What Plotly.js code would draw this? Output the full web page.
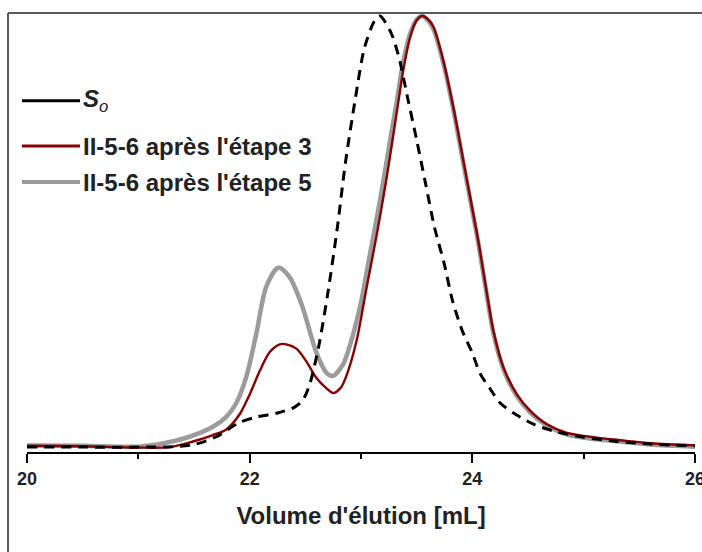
<!DOCTYPE html>
<html>
<head>
<meta charset="utf-8">
<script src="https://cdn.plot.ly/plotly-3.0.1.min.js"></script>
<style>html,body{margin:0;padding:0;background:#fff;}#chart{width:702px;height:552px;}</style>
</head>
<body>
<div id="chart"></div>
<script>
// Elution volume (mL) and normalised detector response
var s0X = [20.0, 20.5, 21.0, 21.3, 21.5, 21.7, 21.9, 22.05, 22.25, 22.4, 22.48, 22.54, 22.62, 22.70, 22.79, 22.86, 22.95, 23.03, 23.12, 23.17, 23.27, 23.34, 23.42, 23.50, 23.58, 23.66, 23.75, 23.82, 23.91, 24.0, 24.07, 24.16, 24.25, 24.37, 24.55, 24.75, 25.0, 25.3, 25.6, 26.0];
var s0Y = [0.002, 0.002, 0.002, 0.003, 0.008, 0.026, 0.058, 0.071, 0.081, 0.094, 0.112, 0.148, 0.235, 0.355, 0.515, 0.66, 0.81, 0.925, 0.988, 1.0, 0.961, 0.905, 0.809, 0.713, 0.612, 0.511, 0.424, 0.343, 0.271, 0.22, 0.172, 0.137, 0.104, 0.081, 0.055, 0.038, 0.025, 0.015, 0.009, 0.005];

var step3X = [20.0, 20.5, 21.0, 21.28, 21.49, 21.67, 21.79, 21.91, 22.0, 22.09, 22.18, 22.27, 22.33, 22.42, 22.51, 22.60, 22.69, 22.75, 22.82, 22.88, 22.96, 23.05, 23.14, 23.23, 23.32, 23.38, 23.44, 23.50, 23.55, 23.60, 23.65, 23.74, 23.83, 23.92, 24.01, 24.06, 24.12, 24.19, 24.28, 24.40, 24.52, 24.67, 24.85, 25.12, 25.33, 25.6, 26.0];
var step3Y = [0.005, 0.004, 0.001, 0.002, 0.015, 0.03, 0.043, 0.078, 0.124, 0.178, 0.222, 0.24, 0.24, 0.23, 0.2, 0.162, 0.138, 0.127, 0.14, 0.175, 0.248, 0.371, 0.492, 0.625, 0.775, 0.875, 0.95, 0.99, 1.0, 0.993, 0.975, 0.896, 0.788, 0.664, 0.54, 0.47, 0.375, 0.27, 0.186, 0.124, 0.086, 0.055, 0.035, 0.024, 0.018, 0.011, 0.006];

var step5X = [20.0, 20.5, 21.0, 21.25, 21.46, 21.67, 21.79, 21.88, 21.97, 22.06, 22.15, 22.26, 22.36, 22.47, 22.60, 22.69, 22.75, 22.84, 22.90, 22.99, 23.08, 23.17, 23.26, 23.32, 23.38, 23.44, 23.50, 23.55, 23.60, 23.65, 23.74, 23.83, 23.92, 24.01, 24.06, 24.12, 24.19, 24.28, 24.40, 24.52, 24.67, 24.85, 25.12, 25.33, 25.6, 26.0];
var step5Y = [0.006, 0.005, 0.003, 0.012, 0.026, 0.049, 0.072, 0.104, 0.165, 0.265, 0.374, 0.418, 0.395, 0.33, 0.22, 0.174, 0.167, 0.194, 0.237, 0.325, 0.448, 0.572, 0.71, 0.8, 0.895, 0.958, 0.992, 1.0, 0.99, 0.97, 0.89, 0.782, 0.658, 0.535, 0.465, 0.37, 0.265, 0.182, 0.12, 0.082, 0.052, 0.031, 0.02, 0.015, 0.008, 0.003];

var seriesNames = ['<b><i>S</i></b><sub><i>o</i></sub>', "<b>II-5-6 après l'étape 3</b>", "<b>II-5-6 après l'étape 5</b>"];
var seriesColors = ['#000000', '#8b0000', '#9b9b9b'];
var xTickVals = [20, 22, 24, 26];
var xTickText = ['20', '22', '24', '26'];
var xTitle = "Volume d'élution [mL]";

var traces = [
  {x: step5X, y: step5Y, mode: 'lines', name: seriesNames[2], line: {color: seriesColors[2], width: 4.5, shape: 'spline', smoothing: 0.8}, showlegend: false, hoverinfo: 'skip'},
  {x: step3X, y: step3Y, mode: 'lines', name: seriesNames[1], line: {color: seriesColors[1], width: 2.4, shape: 'spline', smoothing: 0.8}, showlegend: false, hoverinfo: 'skip'},
  {x: s0X, y: s0Y, mode: 'lines', name: seriesNames[0], line: {color: seriesColors[0], width: 3, dash: '10px,7px', shape: 'spline', smoothing: 0.8}, showlegend: false, hoverinfo: 'skip'}
];

// legend drawn as paper-positioned samples + labels
var legRowsY = [0.80, 0.697, 0.615];
var legWidths = [3, 3, 4];
var shapes = [
  {type: 'line', xref: 'paper', yref: 'paper', x0: -0.0284, x1: -0.0284, y0: 1.0, y1: -0.26, line: {color: '#5a5a5a', width: 2}},
  {type: 'line', xref: 'paper', yref: 'paper', x0: -0.0284, x1: 1.02, y0: 1.0, y1: 1.0, line: {color: '#5a5a5a', width: 2}}
];
var annotations = [];
for (var i = 0; i < 3; i++) {
  shapes.push({type: 'line', xref: 'paper', yref: 'paper', x0: -0.0075, x1: 0.0793, y0: legRowsY[i], y1: legRowsY[i], line: {color: seriesColors[i], width: legWidths[i]}});
  annotations.push({xref: 'paper', yref: 'paper', x: 0.081, y: legRowsY[i], xanchor: 'left', yanchor: 'middle', showarrow: false, text: seriesNames[i], font: {family: 'Liberation Sans, Arial, sans-serif', size: 24, color: '#222222'}});
}

var layout = {
  width: 702, height: 552,
  margin: {l: 27, r: 7, t: 13, b: 100},
  paper_bgcolor: '#ffffff', plot_bgcolor: '#ffffff',
  showlegend: false,
  font: {family: 'Liberation Sans, Arial, sans-serif', color: '#222222'},
  xaxis: {
    range: [20, 26], tickmode: 'array', tickvals: xTickVals, ticktext: xTickText.map(function (t) { return '<b>' + t + '</b>'; }),
    showline: true, linecolor: '#000000', linewidth: 2,
    ticks: 'outside', ticklen: 9, tickwidth: 2, tickcolor: '#000000',
    minor: {dtick: 1, tick0: 20, ticks: 'outside', ticklen: 5, tickwidth: 2, tickcolor: '#000000'},
    showgrid: false, zeroline: false,
    tickfont: {size: 18, color: '#222222'},
    ticklabeloverflow: 'allow',
    title: {text: '<b>' + xTitle + '</b>', font: {size: 24, color: '#222222'}, standoff: 20}
  },
  yaxis: {range: [-0.0093, 1.0069], visible: false, showgrid: false, zeroline: false},
  shapes: shapes,
  annotations: annotations
};

Plotly.newPlot('chart', traces, layout, {displayModeBar: false, staticPlot: true});
</script>
</body>
</html>
